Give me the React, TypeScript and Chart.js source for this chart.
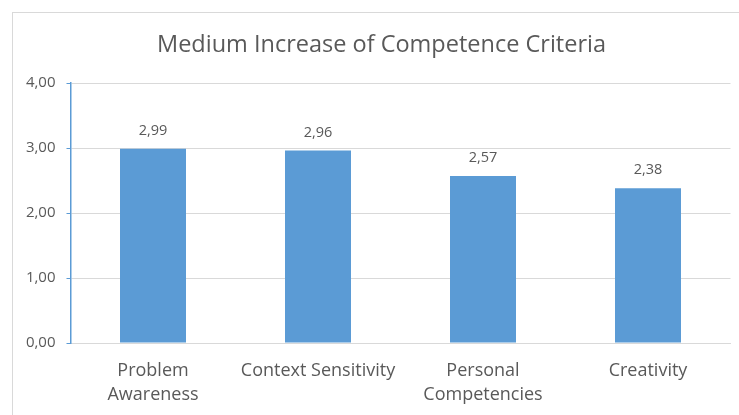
import React, { useEffect, useRef } from "react";
import { Chart, registerables } from "chart.js";

Chart.register(...registerables);

const TITLE = "Medium Increase of Competence Criteria";
const categories: (string | string[])[] = [
  ["Problem", "Awareness"],
  "Context Sensitivity",
  ["Personal", "Competencies"],
  "Creativity",
];
const values: number[] = [2.99, 2.96, 2.57, 2.38];
const yMin = 0;
const yMax = 4;
const yStep = 1;

const FONT = "'Open Sans', sans-serif";
const TEXT = "#595959";
const BAR = "#5b9bd5";

const fmt = (v: number) => v.toFixed(2).replace(".", ",");

const valueLabels = {
  id: "valueLabels",
  afterDatasetsDraw(chart: any) {
    const ctx = chart.ctx;
    const meta = chart.getDatasetMeta(0);
    ctx.save();
    ctx.font = `14.5px ${FONT}`;
    ctx.fillStyle = TEXT;
    ctx.textAlign = "center";
    ctx.textBaseline = "middle";
    meta.data.forEach((el: any, i: number) => {
      ctx.fillText(fmt(values[i]), el.x, el.y - 18);
    });
    ctx.restore();
  },
};

const titlePlugin = {
  id: "chartTitle",
  afterDraw(chart: any) {
    const ctx = chart.ctx;
    ctx.save();
    ctx.font = `23.5px ${FONT}`;
    ctx.fillStyle = TEXT;
    ctx.textAlign = "center";
    ctx.textBaseline = "middle";
    ctx.fillText(TITLE, 381.5, 45);
    ctx.restore();
  },
};

export default function App() {
  const ref = useRef<HTMLCanvasElement | null>(null);
  useEffect(() => {
    if (!ref.current) return;
    const chart = new Chart(ref.current, {
      type: "bar",
      data: {
        labels: categories,
        datasets: [
          {
            data: values,
            backgroundColor: BAR,
            categoryPercentage: 1,
            barPercentage: 0.4,
          },
        ],
      },
      options: {
        animation: false,
        responsive: false,
        maintainAspectRatio: false,
        layout: { padding: { left: 0, right: 8.5, top: 83, bottom: 0 } },
        plugins: {
          legend: { display: false },
          tooltip: { enabled: false },
          title: { display: false },
        },
        scales: {
          x: {
            grid: { display: false, drawTicks: false },
            border: { display: true, color: "#d9d9d9" },
            ticks: {
              color: TEXT,
              font: { family: FONT, size: 18, lineHeight: 1.33 },
              padding: 16,
              maxRotation: 0,
              autoSkip: false,
            },
            afterFit(scale: any) {
              scale.height = 72;
            },
          },
          y: {
            min: yMin,
            max: yMax,
            ticks: {
              stepSize: yStep,
              color: TEXT,
              font: { family: FONT, size: 15 },
              padding: 11,
              callback: (v: any) => fmt(Number(v)),
            },
            grid: {
              color: "#d9d9d9",
              tickColor: BAR,
              tickLength: 4,
              drawTicks: true,
            },
            border: { display: true, color: BAR, width: 1.5 },
            afterFit(scale: any) {
              scale.width = 70.5;
            },
          },
        },
      },
      plugins: [valueLabels, titlePlugin],
    });
    return () => chart.destroy();
  }, []);

  return (
    <div style={{ position: "absolute", left: 0, top: 0, width: 739, height: 415, background: "#fff", overflow: "hidden" }}>
      <div
        style={{
          position: "absolute",
          left: 12,
          top: 12,
          width: 800,
          height: 500,
          borderLeft: "1.5px solid #d9d9d9",
          borderTop: "1.5px solid #d9d9d9",
        }}
      />
      <canvas ref={ref} width={739} height={415} style={{ position: "absolute", left: 0, top: 0 }} />
    </div>
  );
}
